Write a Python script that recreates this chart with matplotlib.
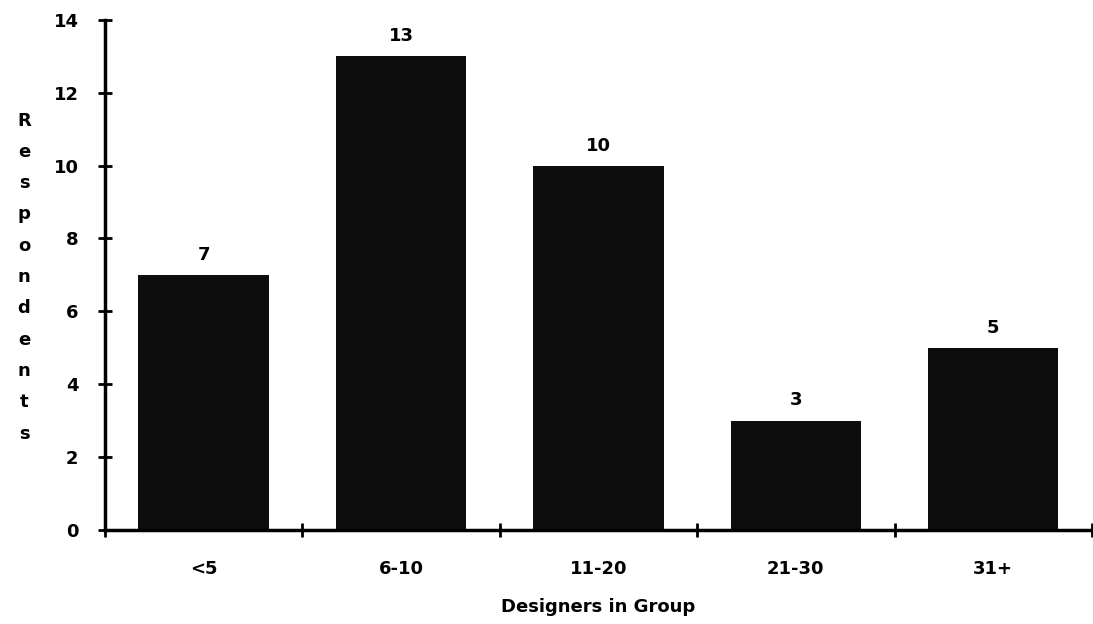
import numpy as np
import matplotlib.pyplot as plt

categories = ['<5', '6-10', '11-20', '21-30', '31+']
respondents = [7, 13, 10, 3, 5]
yticks = [0, 2, 4, 6, 8, 10, 12, 14]

fig = plt.figure(figsize=(10.93, 6.24), dpi=100)
ax = fig.add_axes([0.096, 0.151, 0.903, 0.817])

x = np.arange(len(categories))
bars = ax.bar(x, respondents, width=0.66, color='#0d0d0d', zorder=2)

for xi, v in zip(x, respondents):
    ax.annotate(str(v), (xi, v), xytext=(0, 8), textcoords='offset points',
                ha='center', va='bottom', fontsize=13, fontweight='bold')

ax.set_xlim(-0.5, len(categories) - 0.5)
ax.set_ylim(0, 14)
ax.set_yticks(yticks)
ax.set_xticks(x)
ax.set_xticklabels(categories)
ax.set_xticks(np.arange(len(categories) + 1) - 0.5, minor=True)

for s in ['top', 'right']:
    ax.spines[s].set_visible(False)
for s in ['left', 'bottom']:
    ax.spines[s].set_linewidth(2.5)

ax.tick_params(axis='y', direction='inout', length=10, width=2, pad=14,
               labelsize=13)
ax.tick_params(axis='x', which='major', length=0, pad=22, labelsize=13)
ax.tick_params(axis='x', which='minor', direction='inout', length=10, width=2)
for lab in ax.get_xticklabels() + ax.get_yticklabels():
    lab.set_fontweight('bold')

ax.set_xlabel('Designers in Group', fontsize=13, fontweight='bold', labelpad=14)
fig.text(0.022, 0.556, '\n'.join('Respondents'), ha='center', va='center',
         fontsize=13, fontweight='bold', linespacing=1.95)

fig.savefig('out.png', dpi=100)
